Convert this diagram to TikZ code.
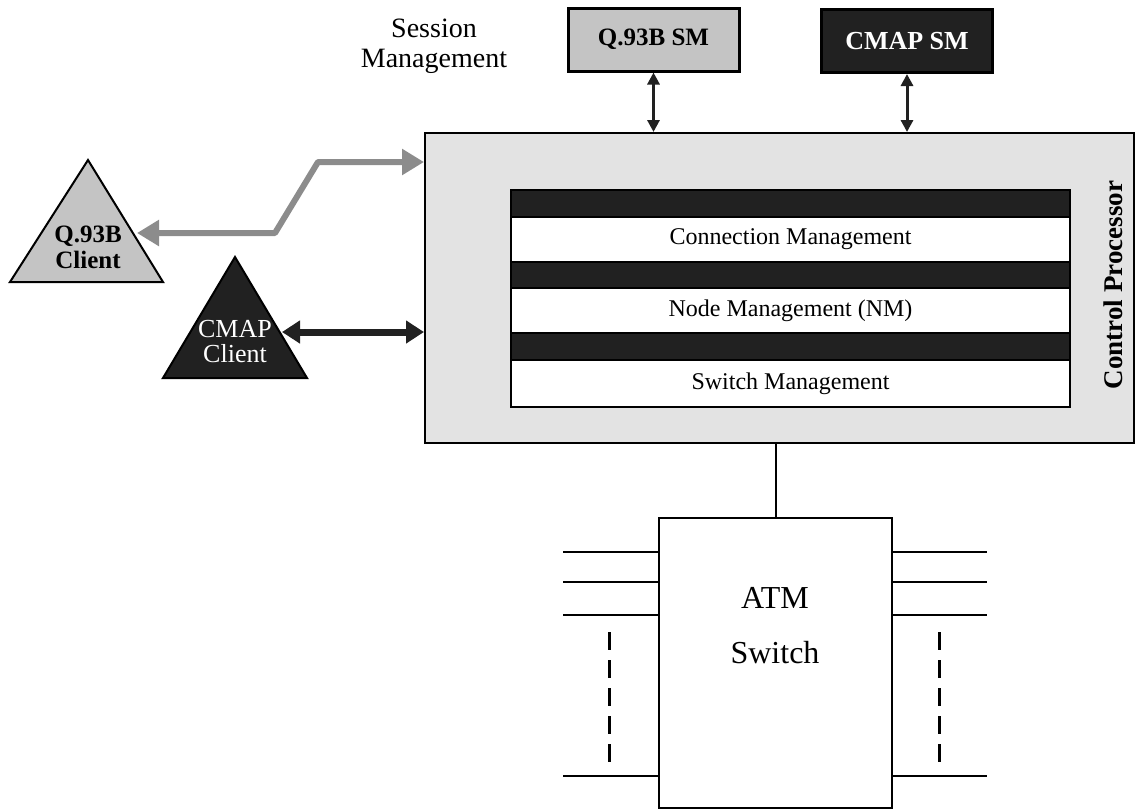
\documentclass[tikz,border=0pt]{standalone}
\usepackage{fontspec}
\setmainfont{Liberation Serif}
\usepackage{xcolor}
\definecolor{cpgray}{gray}{0.89}
\definecolor{smgray}{gray}{0.77}
\definecolor{argray}{gray}{0.55}
\definecolor{dk}{gray}{0.13}
\usetikzlibrary{arrows.meta}

\begin{document}
\begin{tikzpicture}[x=0.5pt, y=-0.5pt,
  box/.style={draw=black, line width=1pt, inner sep=0pt},
  layer/.style={box, fill=white, minimum width=279.5pt, minimum height=22.5pt, font=\fontsize{12}{14}\selectfont},
  smbox/.style={box, line width=1.5pt, minimum width=85.5pt, minimum height=31.5pt},
  smarrow/.style={{Triangle[length=6pt,width=6pt]}-{Triangle[length=6pt,width=6pt]}, line width=1.5pt, dk},
  grayarrow/.style={{Triangle[length=11pt,width=12.5pt]}-{Triangle[length=11pt,width=12.5pt]}, line width=3pt, argray, line join=round},
  dkarrow/.style={{Triangle[length=9pt,width=11pt]}-{Triangle[length=9pt,width=11pt]}, line width=3.5pt, dk}]
\useasboundingbox (0,0) rectangle (1135,810);
% control processor
\node[box, fill=cpgray, minimum width=354.5pt, minimum height=155pt, anchor=north west] (cp) at (424,132) {};
\fill[dk] (511,190) rectangle (1070,407);
\node[layer] (cm) at (790.5,239.5) {Connection Management};
\node[layer] (nm) at (790.5,310.5) {Node Management (NM)};
\node[layer, minimum height=23.5pt] (sw) at (790.5,383.5) {Switch Management};
\draw[line width=1pt] (511,190) rectangle (1070,407);
\node[rotate=90, font=\fontsize{13.5}{15}\selectfont\bfseries] (cplab) at (1113,285) {Control Processor};
% session management
\node[align=center, font=\fontsize{14}{15}\selectfont] (sess) at (434,46) {Session\\Management};
\node[smbox, fill=smgray, font=\fontsize{12.5}{14}\selectfont\bfseries] (qsm) at (653.5,39.5) {Q.93B SM};
\node[smbox, fill=dk, text=white, font=\fontsize{13}{14}\selectfont\bfseries] (csm) at (907,41) {CMAP SM};
\draw[smarrow] (qsm.south) -- (qsm.south |- cp.north);
\draw[smarrow] (csm.south) -- (csm.south |- cp.north);
% clients
\draw[line width=1pt, fill=smgray] (88,160) -- (163,282) -- (10,282) -- cycle;
\node[align=center, font=\fontsize{12.5}{13}\selectfont\bfseries] (qcl) at (88,247) {Q.93B\\Client};
\coordinate (qtip) at (137,233);
\draw[grayarrow] (qtip) -- (275,233) -- (318,162) -- (cp.west |- 0,162);
\draw[line width=1pt, fill=dk] (235,257) -- (307,378) -- (163,378) -- cycle;
\node[align=center, text=white, font=\fontsize{13}{12.5}\selectfont] (ccl) at (235,342) {CMAP\\Client};
\coordinate (ctip) at (282,332);
\draw[dkarrow] (ctip) -- (cp.west |- ctip);
% atm switch
\node[box, minimum width=116.5pt, minimum height=145pt] (atm) at (775.5,663) {};
\node[align=center, font=\fontsize{16}{27.5}\selectfont] (atmtxt) at (775,626) {ATM\\Switch};
\draw[line width=1pt] (atm.north) -- (atm.north |- cp.south);
\foreach \y in {552,582,615,776}{
\draw[line width=1pt] (atm.west |- 0,\y) -- (563,\y);
\draw[line width=1pt] (atm.east |- 0,\y) -- (987,\y);
}
\foreach \x in {609,939}
\draw[line width=1.5pt, dash pattern=on 9pt off 5pt] (\x,632) -- (\x,765);
\end{tikzpicture}
\end{document}
